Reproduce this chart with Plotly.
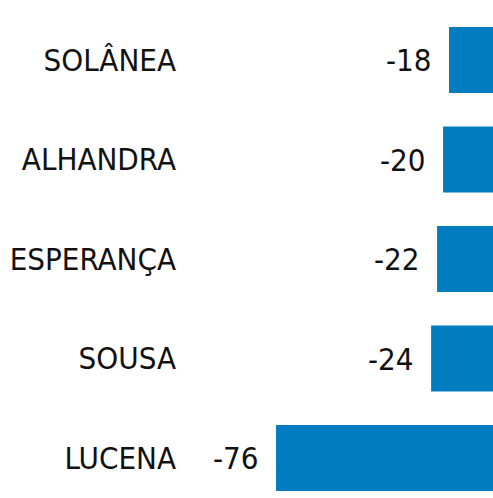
import plotly.graph_objects as go

categories = ["SOLÂNEA", "ALHANDRA", "ESPERANÇA", "SOUSA", "LUCENA"]
values = [-18, -20, -22, -24, -76]
value_labels = ["-18", "-20", "-22", "-24", "-76"]

FONT = "DejaVu Sans Condensed, Liberation Sans Narrow, sans-serif"
BAR_COLOR = "#007DC0"
FS = 31

fig = go.Figure()
fig.add_trace(go.Bar(
    y=categories, x=values, orientation="h",
    marker=dict(color=BAR_COLOR, line=dict(width=0)),
    hoverinfo="skip",
))

for c, v, t in zip(categories, values, value_labels):
    fig.add_annotation(x=v, y=c, text=t, showarrow=False, xanchor="right",
                       yanchor="middle", xshift=-15,
                       font=dict(family=FONT, size=FS, color="#111111"))

fig.update_layout(
    width=493, height=498,
    margin=dict(l=180, r=0, t=0, b=0),
    paper_bgcolor="white", plot_bgcolor="white",
    showlegend=False, bargap=0.337,
    xaxis=dict(range=[-108.2, -3.25], visible=False, fixedrange=True),
    yaxis=dict(range=[4.402, -0.603], showgrid=False, zeroline=False,
               showline=False, ticks="", ticklabelstandoff=3,
               tickfont=dict(family=FONT, size=FS, color="#111111"),
               fixedrange=True),
)

fig.write_html(
    "out.html",
    config={"displayModeBar": False},
    post_script="document.body.style.margin='0';document.body.style.padding='0';"
                "document.documentElement.style.overflow='hidden';",
)
